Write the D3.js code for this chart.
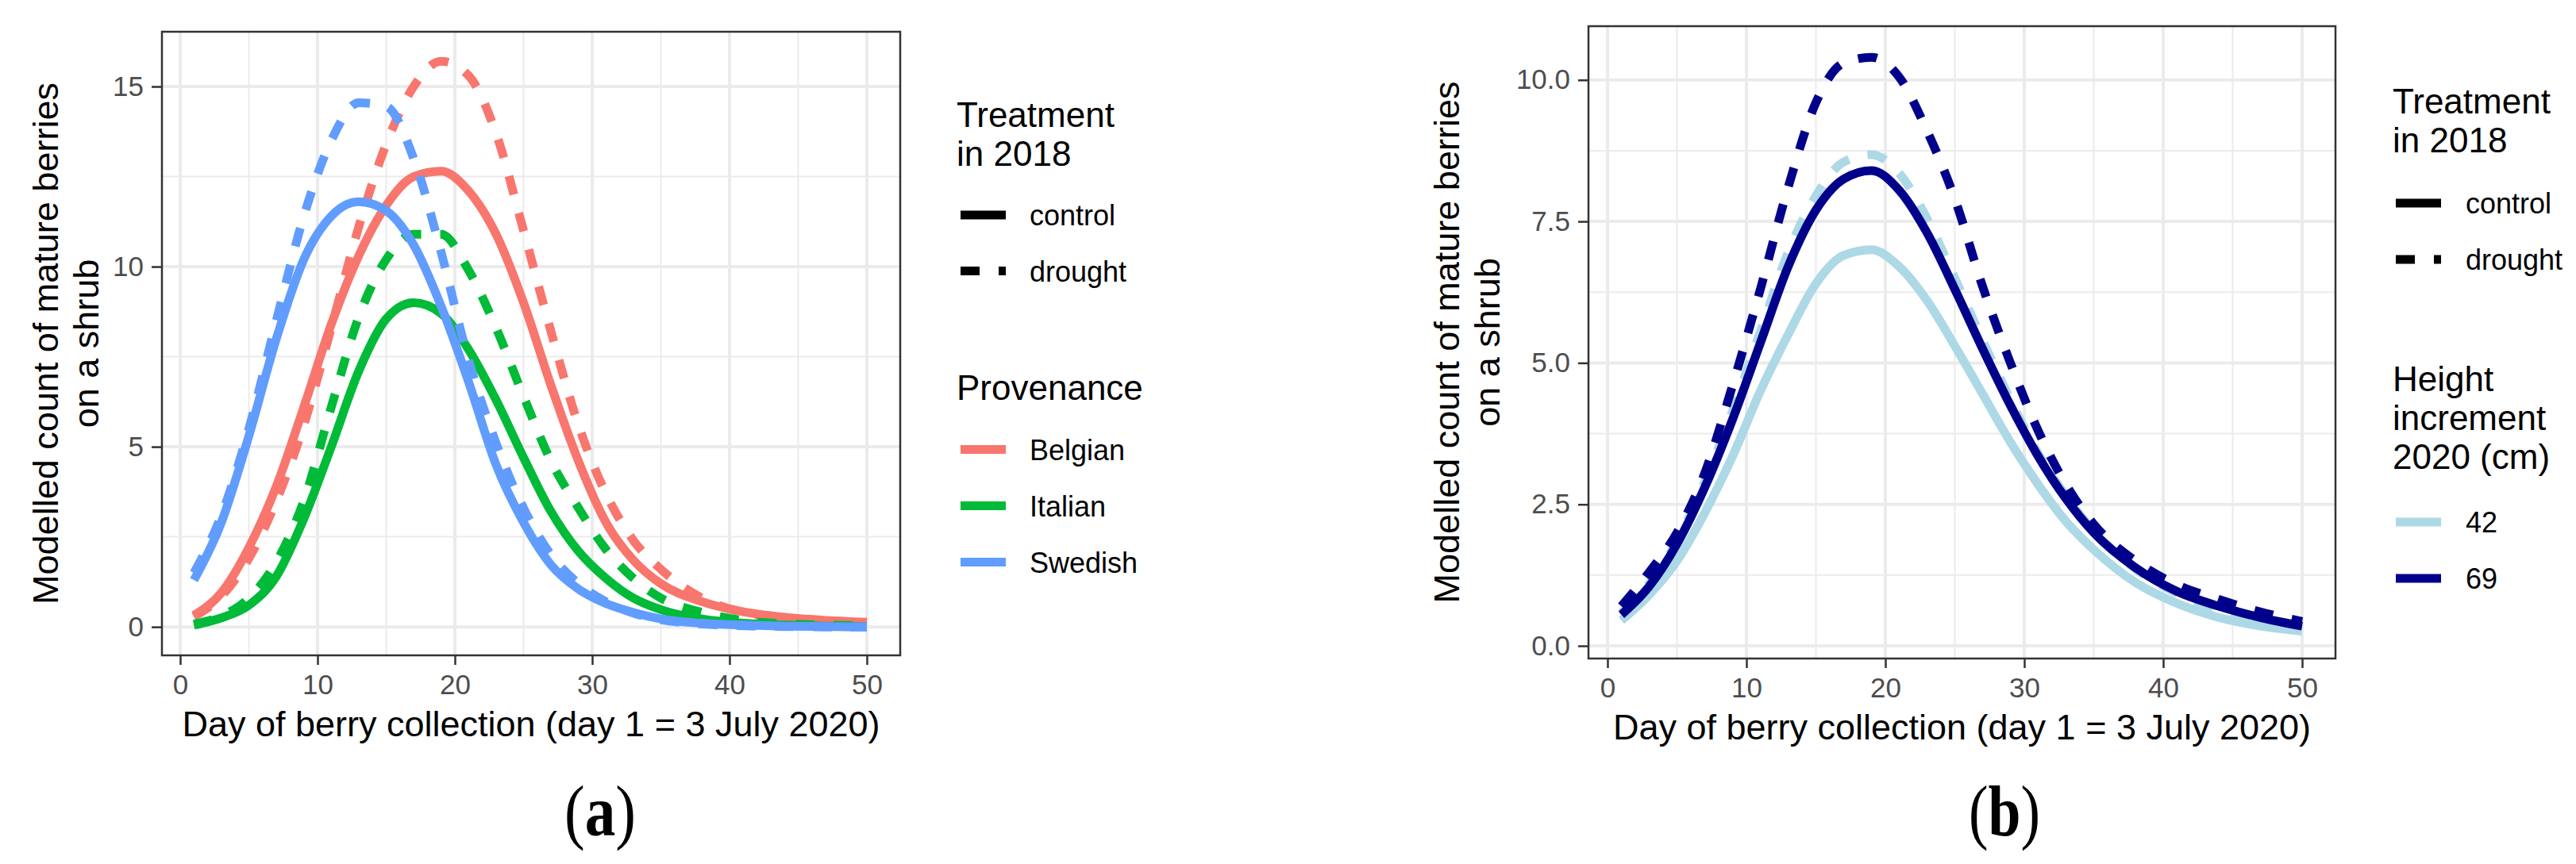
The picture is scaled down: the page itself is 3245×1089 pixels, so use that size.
<!DOCTYPE html>
<html>
<head>
<meta charset="utf-8">
<script src="https://cdn.jsdelivr.net/npm/d3@7"></script>
<style>
  body { margin: 0; background: #fff; }
  svg { display: block; }
</style>
</head>
<body>
<svg width="3245" height="1089"></svg>
<script>
// ---- data ----
const days = [1, 3, 5, 7, 9, 11, 13, 15, 17, 19, 21, 23, 25, 27, 29, 31, 33, 35, 38, 41, 44, 47, 50];

// panel (a): provenance x treatment
const belgianControl = [0.32, 0.95, 2.2, 3.9, 6.1, 8.4, 10.3, 11.7, 12.5, 12.65, 12.1, 10.9, 9.0, 6.7, 4.6, 2.9, 1.85, 1.2, 0.7, 0.42, 0.27, 0.18, 0.13];
const belgianDrought = [0.28, 0.85, 1.9, 3.5, 5.6, 8.3, 11.1, 13.4, 15.0, 15.7, 15.3, 13.7, 11.0, 8.2, 5.6, 3.7, 2.4, 1.6, 0.8, 0.4, 0.25, 0.17, 0.13];
const italianControl = [0.05, 0.25, 0.6, 1.4, 3.0, 5.0, 7.1, 8.55, 9.0, 8.7, 7.7, 6.3, 4.7, 3.2, 2.1, 1.35, 0.8, 0.48, 0.22, 0.1, 0.05, 0.02, 0.0];
const italianDrought = [0.08, 0.3, 0.8, 1.8, 3.5, 6.1, 8.6, 10.2, 10.9, 10.9, 9.9, 8.3, 6.4, 4.6, 3.3, 2.15, 1.35, 0.8, 0.4, 0.18, 0.09, 0.05, 0.03];
const swedishControl = [1.3, 2.9, 5.3, 8.0, 10.2, 11.4, 11.8, 11.55, 10.6, 8.9, 6.8, 4.5, 2.9, 1.72, 1.05, 0.65, 0.4, 0.22, 0.1, 0.05, 0.02, 0.01, 0.0];
const swedishDrought = [1.5, 3.1, 5.5, 8.5, 11.4, 13.5, 14.55, 14.45, 13.0, 10.4, 7.4, 5.1, 3.3, 2.0, 1.2, 0.7, 0.38, 0.2, 0.08, 0.03, 0.01, 0.0, 0.0];

// panel (b): height increment x treatment
const h42Control = [0.45, 0.9, 1.5, 2.35, 3.35, 4.5, 5.5, 6.4, 6.9, 7.0, 6.7, 6.1, 5.3, 4.45, 3.6, 2.85, 2.2, 1.7, 1.12, 0.75, 0.5, 0.35, 0.26];
const h42Drought = [0.58, 1.1, 1.85, 2.9, 4.15, 5.55, 6.95, 7.95, 8.55, 8.68, 8.35, 7.55, 6.5, 5.4, 4.35, 3.4, 2.65, 2.02, 1.36, 0.93, 0.65, 0.46, 0.33];
const h69Control = [0.55, 1.05, 1.8, 2.8, 4.0, 5.35, 6.7, 7.7, 8.25, 8.4, 8.05, 7.3, 6.3, 5.25, 4.25, 3.35, 2.6, 2.0, 1.38, 0.96, 0.7, 0.5, 0.35];
const h69Drought = [0.7, 1.3, 2.0, 3.05, 4.6, 6.3, 8.1, 9.6, 10.3, 10.4, 10.05, 9.1, 7.9, 6.35, 5.0, 3.8, 2.85, 2.15, 1.5, 1.08, 0.82, 0.6, 0.43];

// ticks and labels
const xTicks = [0, 10, 20, 30, 40, 50];
const xMinor = [5, 15, 25, 35, 45];
const yTicksA = [0, 5, 10, 15];
const yMinorA = [2.5, 7.5, 12.5];
const yTicksB = [0, 2.5, 5, 7.5, 10];
const yMinorB = [1.25, 3.75, 6.25, 8.75];
const treatments = ['control', 'drought'];
const provenances = ['Belgian', 'Italian', 'Swedish'];
const heights = ['42', '69'];

const xTitle = 'Day of berry collection (day 1 = 3 July 2020)';
const yTitle = ['Modelled count of mature berries', 'on a shrub'];

const provColors = ['#F8766D', '#00BA38', '#619CFF'];
const heightColors = ['#ADD8E6', '#00008B'];

const FONT = '"Liberation Sans", Arial, Helvetica, sans-serif';
const DASH = '24 24';
const LW = 11;

const svg = d3.select('svg');

function drawPanel(p) {
	const x = d3.scaleLinear().domain(p.xDomain).range([p.left, p.right]);
	const y = d3.scaleLinear().domain(p.yDomain).range([p.bottom, p.top]);
	const g = svg.append('g');

	const vgrid = (vals, w) => g.append('g').selectAll('line').data(vals)
		.enter().append('line')
			.attr('x1', d => x(d)).attr('x2', d => x(d))
			.attr('y1', p.top).attr('y2', p.bottom)
			.attr('stroke', '#EBEBEB').attr('stroke-width', w);
	const hgrid = (vals, w) => g.append('g').selectAll('line').data(vals)
		.enter().append('line')
			.attr('y1', d => y(d)).attr('y2', d => y(d))
			.attr('x1', p.left).attr('x2', p.right)
			.attr('stroke', '#EBEBEB').attr('stroke-width', w);

	vgrid(xMinor, 2);
	hgrid(p.yMinor, 2);
	vgrid(xTicks, 4);
	hgrid(p.yTicks, 4);

	const line = d3.line()
		.x((d, i) => x(days[i]))
		.y(d => y(d))
		.curve(d3.curveMonotoneX);

	g.append('g').selectAll('path').data(p.series)
		.enter().append('path')
			.attr('d', d => line(d.values))
			.attr('fill', 'none')
			.attr('stroke', d => d.color)
			.attr('stroke-width', LW)
			.attr('stroke-dasharray', d => d.dashed ? DASH : null);

	g.append('rect')
		.attr('x', p.left).attr('y', p.top)
		.attr('width', p.right - p.left).attr('height', p.bottom - p.top)
		.attr('fill', 'none').attr('stroke', '#333333').attr('stroke-width', 2.5);

	const styleAxis = sel => {
		sel.select('.domain').remove();
		sel.selectAll('.tick line').attr('stroke', '#333333').attr('stroke-width', 2.5);
		sel.selectAll('.tick text')
			.attr('fill', '#4D4D4D')
			.style('font-family', FONT)
			.style('font-size', '35px');
	};

	g.append('g')
		.attr('transform', `translate(0, ${p.bottom})`)
		.call(d3.axisBottom(x).tickValues(xTicks).tickSize(12).tickPadding(12).tickFormat(d3.format('d')))
		.call(styleAxis);

	g.append('g')
		.attr('transform', `translate(${p.left}, 0)`)
		.call(d3.axisLeft(y).tickValues(p.yTicks).tickSize(13).tickPadding(10).tickFormat(p.yFormat))
		.call(styleAxis);

	g.append('text')
		.attr('x', (p.left + p.right) / 2).attr('y', p.xTitleY)
		.attr('text-anchor', 'middle')
		.style('font-family', FONT).style('font-size', '45px')
		.text(xTitle);

	const yt = g.append('text')
		.attr('transform', `translate(${p.yTitleX}, ${(p.top + p.bottom) / 2}) rotate(-90)`)
		.attr('text-anchor', 'middle')
		.style('font-family', FONT).style('font-size', '45px');
	yTitle.forEach((t, i) => yt.append('tspan').attr('x', 0).attr('y', i * 51).text(t));
}

function drawLegend(l) {
	const g = svg.append('g');
	l.groups.forEach(grp => {
		grp.title.forEach((t, i) => g.append('text')
			.attr('x', l.titleX).attr('y', grp.titleY + i * 49)
			.style('font-family', FONT).style('font-size', '44px')
			.text(t));
		grp.labels.forEach((lab, i) => {
			const ky = grp.keyY + i * grp.step;
			g.append('line')
				.attr('x1', l.keyX).attr('x2', l.keyX + 57)
				.attr('y1', ky).attr('y2', ky)
				.attr('stroke', grp.colors ? grp.colors[i] : '#000')
				.attr('stroke-width', LW)
				.attr('stroke-dasharray', grp.dashes && grp.dashes[i] ? DASH : null);
			g.append('text')
				.attr('x', l.textX).attr('y', ky + 13)
				.style('font-family', FONT).style('font-size', '36px')
				.text(lab);
		});
	});
}

function caption(cx, letter) {
	const t = svg.append('text')
		.attr('x', cx).attr('y', 1053)
		.attr('text-anchor', 'middle')
		.attr('textLength', 90).attr('lengthAdjust', 'spacingAndGlyphs')
		.style('font-family', '"Liberation Serif", "Times New Roman", serif')
		.style('font-size', '90px');
	t.append('tspan').text('(');
	t.append('tspan').style('font-weight', 'bold').text(letter);
	t.append('tspan').text(')');
}

// panel (a)
drawPanel({
	left: 204, right: 1134, top: 40, bottom: 826,
	xDomain: [-1.33, 52.43], yDomain: [-0.79, 16.52],
	yTicks: yTicksA, yMinor: yMinorA, yFormat: d3.format('d'),
	xTitleY: 928, yTitleX: 73,
	series: [
		{ values: belgianControl, color: provColors[0], dashed: false },
		{ values: belgianDrought, color: provColors[0], dashed: true },
		{ values: italianControl, color: provColors[1], dashed: false },
		{ values: italianDrought, color: provColors[1], dashed: true },
		{ values: swedishControl, color: provColors[2], dashed: false },
		{ values: swedishDrought, color: provColors[2], dashed: true }
	]
});

drawLegend({
	titleX: 1205, keyX: 1210, textX: 1297,
	groups: [
		{ title: ['Treatment', 'in 2018'], titleY: 160, labels: treatments, keyY: 271, step: 70.5, dashes: [false, true] },
		{ title: ['Provenance'], titleY: 504, labels: provenances, keyY: 566.5, step: 71, colors: provColors }
	]
});

// panel (b)
drawPanel({
	left: 2001, right: 2942, top: 33, bottom: 830,
	xDomain: [-1.37, 52.4], yDomain: [-0.224, 10.95],
	yTicks: yTicksB, yMinor: yMinorB, yFormat: d3.format('.1f'),
	xTitleY: 932, yTitleX: 1838,
	series: [
		{ values: h42Control, color: heightColors[0], dashed: false },
		{ values: h42Drought, color: heightColors[0], dashed: true },
		{ values: h69Control, color: heightColors[1], dashed: false },
		{ values: h69Drought, color: heightColors[1], dashed: true }
	]
});

drawLegend({
	titleX: 3014, keyX: 3018, textX: 3106,
	groups: [
		{ title: ['Treatment', 'in 2018'], titleY: 143, labels: treatments, keyY: 256, step: 71, dashes: [false, true] },
		{ title: ['Height', 'increment', '2020 (cm)'], titleY: 493, labels: heights, keyY: 658, step: 71, colors: heightColors }
	]
});

caption(756, 'a');
caption(2525, 'b');
</script>
</body>
</html>
